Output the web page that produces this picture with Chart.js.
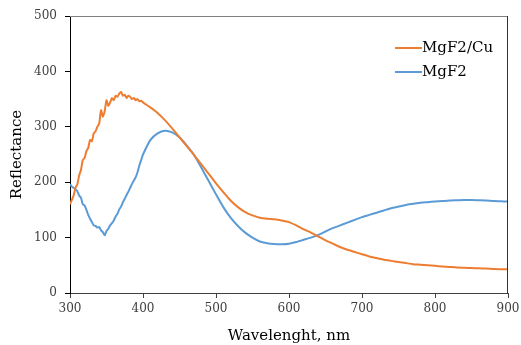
<!DOCTYPE html>
<html>
<head>
<meta charset="utf-8">
<script src="https://cdn.jsdelivr.net/npm/chart.js@4"></script>
<style>
  html, body { margin: 0; padding: 0; background: #fff; }
  #wrap { width: 521px; height: 345px; position: relative; }
</style>
</head>
<body>
<div id="wrap"><canvas id="chart"></canvas></div>
<script>
// wavelength, nm (dense in the noisy UV part)
const wavelength = [300, 302.5, 305, 307.5, 310, 312.5, 315, 317.5, 320, 322.5, 325, 327.5, 330, 332.5, 335, 337.5,
    340, 342.5, 345, 347.5, 350, 352.5, 355, 357.5, 360, 362.5, 365, 367.5, 370, 372.5, 375, 377.5,
    380, 382.5, 385, 387.5, 390, 392.5, 395, 397.5, 400,
    410, 420, 430, 440, 450, 460, 470, 480, 490, 500, 510, 520, 530, 540, 550, 560, 570, 580, 590, 600,
    610, 620, 630, 640, 650, 660, 670, 680, 690, 700, 710, 720, 730, 740, 750, 760, 770, 780, 790, 800,
    810, 820, 830, 840, 850, 860, 870, 880, 890, 900];

const mgf2Cu = [160, 168, 176, 190, 196, 212, 222, 240, 244, 256, 262, 276, 274, 288, 292, 300,
    306, 330, 318, 328, 348, 338, 344, 352, 348, 356, 354, 360, 363, 356, 358, 352,
    356, 354, 350, 352, 348, 350, 346, 347, 344,
    335, 325, 312, 297, 281, 265, 249, 232, 215, 198, 182, 167, 155, 146, 140, 136, 134, 133, 131, 128,
    122, 115, 109, 102, 95, 89, 83, 78, 74, 70, 66, 63, 60, 58, 56, 54, 52, 51, 50, 49,
    48, 47, 46, 45.5, 45, 44.5, 44, 43.5, 43, 43];

const mgf2 = [196, 192, 190, 187, 184, 176, 172, 160, 158, 150, 141, 134, 128, 122, 121, 118,
    119, 113, 110, 104, 112, 116, 122, 126, 131, 138, 143, 151, 156, 164, 170, 177,
    183, 190, 197, 203, 209, 218, 230, 240, 250,
    276, 288, 293, 290, 281, 266, 249, 226, 202, 178, 155, 136, 121, 109, 100, 93, 90, 88.5, 88, 89,
    92, 96, 100, 105, 111, 117, 122, 127, 132, 137, 141, 145, 149, 153, 156, 159, 161, 163, 164, 165,
    166, 167, 167.5, 168, 168, 167.5, 167, 166, 165.5, 165];

const xTicks = [300, 400, 500, 600, 700, 800, 900];
const yTicks = [0, 100, 200, 300, 400, 500];

const seriesNames = ['MgF2/Cu', 'MgF2'];
const seriesColors = ['#ED7D31', '#5B9BD5'];

const toPoints = vals => vals.map((v, i) => ({ x: wavelength[i], y: v }));

const serif = "'DejaVu Serif', 'Liberation Serif', serif";

// frame on top/right + legend inside the plot
const framePlugin = {
    id: 'frame',
    afterDatasetsDraw(chart) {
        const { ctx, chartArea: a } = chart;
        ctx.save();
        ctx.lineWidth = 1;
        ctx.strokeStyle = '#808080';
        ctx.beginPath();
        ctx.moveTo(a.left, a.top + 0.5);
        ctx.lineTo(a.right, a.top + 0.5);
        ctx.stroke();
        ctx.strokeStyle = '#333';
        ctx.beginPath();
        ctx.moveTo(a.right - 0.5, a.top);
        ctx.lineTo(a.right - 0.5, a.bottom);
        ctx.stroke();

        // legend
        ctx.font = '15px ' + serif;
        ctx.textBaseline = 'middle';
        chart.data.datasets.forEach((ds, i) => {
            const y = a.top + 32 + i * 24;
            ctx.strokeStyle = ds.borderColor;
            ctx.lineWidth = 2;
            ctx.beginPath();
            ctx.moveTo(a.right - 113, y);
            ctx.lineTo(a.right - 86, y);
            ctx.stroke();
            ctx.fillStyle = '#000';
            ctx.fillText(ds.label, a.right - 86, y);
        });
        ctx.restore();
    }
};

new Chart(document.getElementById('chart'), {
    type: 'line',
    data: {
        datasets: [{
            label: seriesNames[0],
            data: toPoints(mgf2Cu),
            borderColor: seriesColors[0],
            backgroundColor: seriesColors[0],
            borderWidth: 2,
            pointRadius: 0,
            tension: 0.2
        }, {
            label: seriesNames[1],
            data: toPoints(mgf2),
            borderColor: seriesColors[1],
            backgroundColor: seriesColors[1],
            borderWidth: 2,
            pointRadius: 0,
            tension: 0.2
        }]
    },
    options: {
        responsive: true,
        maintainAspectRatio: false,
        animation: false,
        layout: { padding: { top: 16, right: 13, left: 0, bottom: 0 } },
        plugins: {
            legend: { display: false },
            tooltip: { enabled: false }
        },
        scales: {
            x: {
                type: 'linear',
                min: 300,
                max: 900,
                afterFit: s => { s.height = 52; s.paddingLeft = 0; s.paddingRight = 0; },
                afterBuildTicks: s => { s.ticks = xTicks.map(v => ({ value: v })); },
                ticks: { color: '#404040', font: { family: serif, size: 12 }, padding: 4 },
                grid: { drawOnChartArea: false, tickLength: 5, color: '#404040' },
                border: { color: '#404040', width: 1 },
                title: {
                    display: true,
                    text: 'Wavelenght, nm',
                    color: '#000',
                    font: { family: serif, size: 15 },
                    padding: { top: 1, bottom: 0 }
                }
            },
            y: {
                min: 0,
                max: 500,
                afterFit: s => { s.width = 70; },
                afterBuildTicks: s => { s.ticks = yTicks.map(v => ({ value: v })); },
                ticks: { color: '#404040', font: { family: serif, size: 12 }, padding: 8 },
                grid: { drawOnChartArea: false, tickLength: 5, color: '#000' },
                border: { color: '#000', width: 1 },
                title: {
                    display: true,
                    text: 'Reflectance',
                    color: '#000',
                    font: { family: serif, size: 15 },
                    padding: { top: 8, bottom: 0 }
                }
            }
        }
    },
    plugins: [framePlugin]
});
</script>
</body>
</html>
